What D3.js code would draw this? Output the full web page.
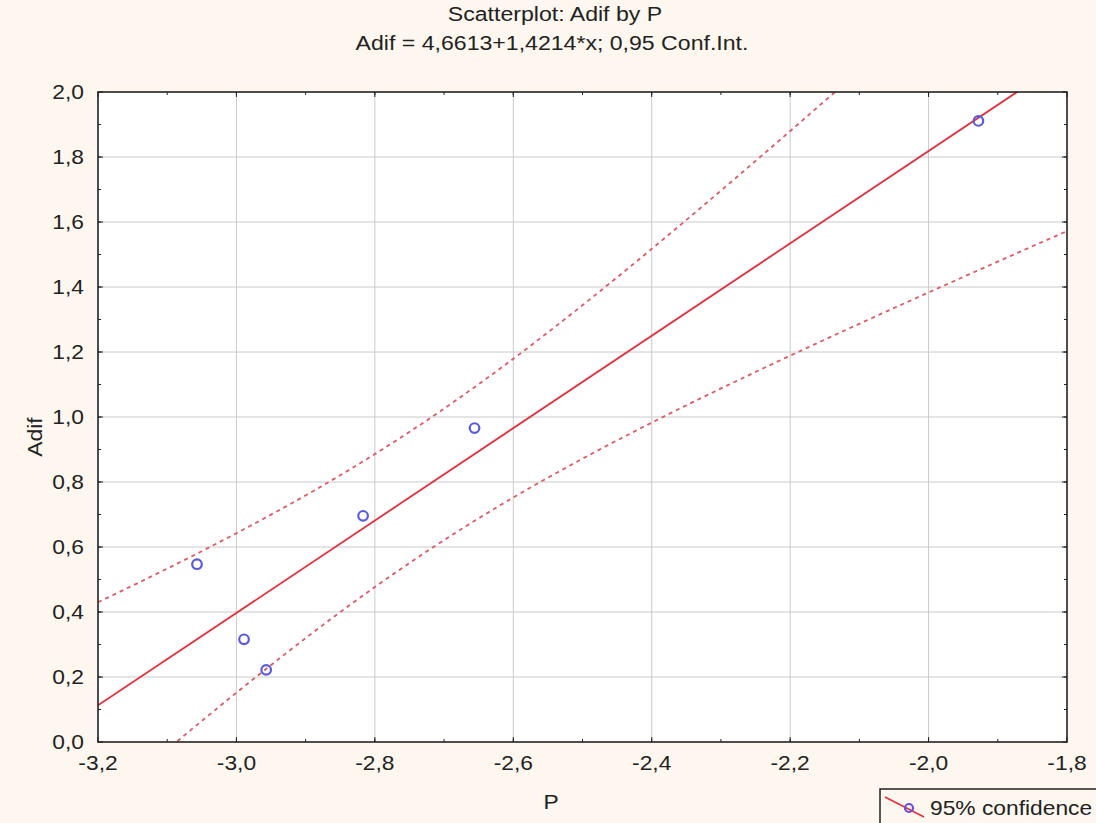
<!DOCTYPE html>
<html>
<head>
<meta charset="utf-8">
<script src="https://cdn.jsdelivr.net/npm/d3@7"></script>
<style>
  body { margin: 0; background: #fdf7ef; }
  svg { display: block; font-family: 'Liberation Sans', Arial, sans-serif; }
</style>
</head>
<body>
<script>
// data
let pValues = [-3.057, -2.989, -2.957, -2.817, -2.656, -1.928];
let adifValues = [0.547, 0.316, 0.222, 0.696, 0.966, 1.911];
let fit = { a: 4.6613, b: 1.4214 };
let xTicks = [-3.2, -3.0, -2.8, -2.6, -2.4, -2.2, -2.0, -1.8];
let yTicks = [0, 0.2, 0.4, 0.6, 0.8, 1.0, 1.2, 1.4, 1.6, 1.8, 2.0];
let tCrit = 2.776; // t(0.975, df=4)

let dim = { width: 1096, height: 823 };
let m = { left: 98, right: 1067, top: 92, bottom: 742 };
let svg = d3.select('body').append('svg').attr('width', dim.width).attr('height', dim.height);

let x = d3.scaleLinear().domain([-3.2, -1.8]).range([m.left, m.right]);
let y = d3.scaleLinear().domain([0, 2]).range([m.bottom, m.top]);
let fmt = (d) => d3.format('.1f')(d).replace('.', ',').replace('−', '-');

// text is a bit wide in the original, so stretch it horizontally
function label(g, px, py, str, size, anchor, sx) {
  return g.append('text')
    .attr('transform', `translate(${px},${py}) scale(${sx || 1.14},1)`)
    .attr('text-anchor', anchor || 'start')
    .attr('font-size', size).attr('fill', '#222').text(str);
}

svg.append('rect').attr('x', m.left).attr('y', m.top)
  .attr('width', m.right - m.left).attr('height', m.bottom - m.top).attr('fill', 'white');

// grid
svg.append('g').selectAll('line').data(xTicks.slice(1, -1)).enter().append('line')
  .attr('x1', (d) => x(d)).attr('x2', (d) => x(d)).attr('y1', m.top).attr('y2', m.bottom)
  .attr('stroke', '#cacaca').attr('stroke-width', 1);
svg.append('g').selectAll('line').data(yTicks.slice(1, -1)).enter().append('line')
  .attr('y1', (d) => y(d)).attr('y2', (d) => y(d)).attr('x1', m.left).attr('x2', m.right)
  .attr('stroke', '#cacaca').attr('stroke-width', 1);

// confidence band
let n = pValues.length;
let mx = d3.mean(pValues);
let sxx = d3.sum(pValues, (v) => (v - mx) ** 2);
let sse = d3.sum(pValues, (v, i) => (adifValues[i] - (fit.a + fit.b * v)) ** 2);
let s = Math.sqrt(sse / (n - 2));
let grid = d3.range(0, 201).map((i) => -3.2 + (1.4 * i) / 200);
let band = (sign) => grid.map((v) => {
  let se = s * Math.sqrt(1 / n + (v - mx) ** 2 / sxx);
  return [v, fit.a + fit.b * v + sign * tCrit * se];
});

svg.append('clipPath').attr('id', 'clip').append('rect')
  .attr('x', m.left).attr('y', m.top).attr('width', m.right - m.left).attr('height', m.bottom - m.top);
let plot = svg.append('g').attr('clip-path', 'url(#clip)');
let line = d3.line().x((d) => x(d[0])).y((d) => y(d[1]));

[1, -1].forEach((sg) => {
  plot.append('path').attr('d', line(band(sg))).attr('fill', 'none')
    .attr('stroke', '#dd5a66').attr('stroke-width', 1.8).attr('stroke-dasharray', '4,4');
});
plot.append('path').attr('d', line([[-3.2, fit.a + fit.b * -3.2], [-1.8, fit.a + fit.b * -1.8]]))
  .attr('fill', 'none').attr('stroke', '#e0303e').attr('stroke-width', 1.8);

plot.selectAll('circle').data(pValues).enter().append('circle')
  .attr('cx', (d) => x(d)).attr('cy', (d, i) => y(adifValues[i])).attr('r', 4.8)
  .attr('fill', 'none').attr('stroke', '#5a5ae0').attr('stroke-width', 2.2);

// frame
svg.append('rect').attr('x', m.left).attr('y', m.top)
  .attr('width', m.right - m.left).attr('height', m.bottom - m.top)
  .attr('fill', 'none').attr('stroke', '#222').attr('stroke-width', 1.6);

// ticks (inward, with minors)
let xMinor = d3.range(0, 14).map((i) => -3.2 + 0.1 * i + 0.1).filter((v) => v < -1.81);
let yMinor = d3.range(0, 20).map((i) => 0.1 * i + 0.1).filter((v) => v < 1.99);
let tk = svg.append('g').attr('stroke', '#222').attr('stroke-width', 1);
xTicks.concat(xMinor).forEach((v, i) => {
  let len = i < xTicks.length ? 5 : 3;
  tk.append('line').attr('x1', x(v)).attr('x2', x(v)).attr('y1', m.bottom).attr('y2', m.bottom - len);
  tk.append('line').attr('x1', x(v)).attr('x2', x(v)).attr('y1', m.top).attr('y2', m.top + len);
});
yTicks.concat(yMinor).forEach((v, i) => {
  let len = i < yTicks.length ? 5 : 3;
  tk.append('line').attr('y1', y(v)).attr('y2', y(v)).attr('x1', m.left).attr('x2', m.left + len);
  tk.append('line').attr('y1', y(v)).attr('y2', y(v)).attr('x1', m.right).attr('x2', m.right - len);
});

let xl = svg.append('g');
xTicks.forEach((d) => label(xl, x(d), m.bottom + 28, fmt(d), 20, 'middle'));
let yl = svg.append('g');
yTicks.forEach((d) => label(yl, m.left - 14, y(d) + 7, fmt(d), 20, 'end'));

// titles
label(svg, 555, 21, 'Scatterplot: Adif by P', 21, 'middle', 1.1);
label(svg, 552, 50, 'Adif = 4,6613+1,4214*x; 0,95 Conf.Int.', 21, 'middle', 1.1);
label(svg, 551, 809, 'P', 20, 'middle');
svg.append('text').attr('transform', 'translate(42,437) rotate(-90) scale(1.14,1)')
  .attr('text-anchor', 'middle').attr('font-size', 20).attr('fill', '#222').text('Adif');

// legend
let lg = svg.append('g');
lg.append('rect').attr('x', 880).attr('y', 789).attr('width', 230).attr('height', 40)
  .attr('fill', '#fdf7ef').attr('stroke', '#222').attr('stroke-width', 1.5);
lg.append('line').attr('x1', 885).attr('y1', 797).attr('x2', 924).attr('y2', 817)
  .attr('stroke', '#e0303e').attr('stroke-width', 1.6);
lg.append('circle').attr('cx', 909).attr('cy', 808).attr('r', 4)
  .attr('fill', 'none').attr('stroke', '#6a4fd8').attr('stroke-width', 2.2);
label(lg, 930, 815, '95% confidence', 20);
</script>
</body>
</html>
